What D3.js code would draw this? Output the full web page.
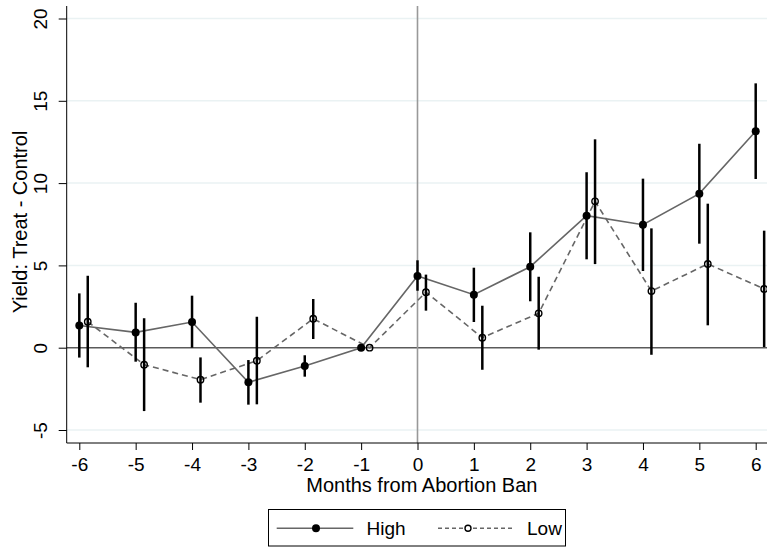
<html>

<head>
    <meta charset="utf-8">
    <style>
        body { margin: 0; background: #fff; }
        text { font-family: "Liberation Sans", Arial, sans-serif; fill: #000; }
    </style>
</head>

<body>
    <svg id="chart"></svg>
</body>
<script src="https://cdnjs.cloudflare.com/ajax/libs/d3/7.8.5/d3.min.js"></script>
<script>
    // months relative to the ban
    const months = [-6, -5, -4, -3, -2, -1, 0, 1, 2, 3, 4, 5, 6];

    // High group: estimate and 95% CI
    const highEst = [1.35, 0.93, 1.56, -2.1, -1.11, 0, 4.36, 3.22, 4.92, 8.02, 7.47, 9.36, 13.15];
    const highLo = [-0.6, -0.85, 0.0, -3.46, -1.76, 0, 3.46, 1.56, 2.82, 5.37, 4.66, 6.32, 10.25];
    const highHi = [3.3, 2.73, 3.16, -0.75, -0.46, 0, 5.31, 4.86, 7.01, 10.66, 10.27, 12.39, 16.06];

    // Low group: estimate and 95% CI
    const lowEst = [1.58, -1.03, -1.94, -0.79, 1.76, 0, 3.37, 0.61, 2.09, 8.89, 3.44, 5.09, 3.57];
    const lowLo = [-1.19, -3.85, -3.34, -3.44, 0.53, 0, 2.25, -1.34, -0.12, 5.08, -0.43, 1.36, 0.04];
    const lowHi = [4.37, 1.79, -0.59, 1.88, 2.96, 0, 4.44, 2.55, 4.31, 12.66, 7.25, 8.75, 7.11];

    const yTicks = [-5, 0, 5, 10, 15, 20];
    const lowShift = 0.15;

    const width = 767, height = 550;
    const plotTop = 6, plotBottom = 443, plotLeft = 66.7, plotRight = 767;

    const svg = d3.select('#chart')
        .attr('width', width)
        .attr('height', height);

    const x = d3.scaleLinear().domain([-6, 6]).range([79.3, 755.7]);
    const y = d3.scaleLinear().domain([0, 20]).range([347.7, 18.5]);

    const high = months.map((m, i) => ({ m: m, v: highEst[i], lo: highLo[i], hi: highHi[i] }));
    const low = months.map((m, i) => ({ m: m + lowShift, v: lowEst[i], lo: lowLo[i], hi: lowHi[i] }));

    // plain hyphen for negatives, like the original
    const fmt = d => String(d);

    // gridlines
    svg.append('g')
        .selectAll('line')
        .data(yTicks.filter(d => d !== 0))
        .enter().append('line')
        .attr('x1', plotLeft).attr('x2', plotRight)
        .attr('y1', d => y(d)).attr('y2', d => y(d))
        .attr('stroke', '#eaf2f3').attr('stroke-width', 1.5);

    // reference lines
    svg.append('line')
        .attr('x1', plotLeft).attr('x2', plotRight)
        .attr('y1', y(0)).attr('y2', y(0))
        .attr('stroke', '#5a5a5a').attr('stroke-width', 1.5);
    svg.append('line')
        .attr('x1', x(0)).attr('x2', x(0))
        .attr('y1', plotTop).attr('y2', plotBottom)
        .attr('stroke', '#999').attr('stroke-width', 1.6);

    // axes
    const yAxis = svg.append('g')
        .attr('transform', `translate(${plotLeft},0)`)
        .call(d3.axisLeft(y).tickValues(yTicks).tickSize(8).tickPadding(0).tickFormat(fmt));
    yAxis.select('.domain').remove();
    yAxis.selectAll('line').attr('stroke', '#000');
    yAxis.selectAll('text')
        .attr('font-size', 19)
        .attr('fill', '#000')
        .attr('text-anchor', 'middle')
        .attr('transform', 'translate(-20,0) rotate(-90)')
        .attr('x', 0).attr('dy', 0)
        .attr('y', 0);
    svg.append('line')
        .attr('x1', plotLeft).attr('x2', plotLeft)
        .attr('y1', plotTop).attr('y2', plotBottom)
        .attr('stroke', '#000').attr('stroke-width', 1);

    const xAxis = svg.append('g')
        .attr('transform', `translate(0,${plotBottom})`)
        .call(d3.axisBottom(x).tickValues(months).tickSize(7).tickPadding(0).tickFormat(fmt));
    xAxis.select('.domain').remove();
    xAxis.selectAll('line').attr('stroke', '#000');
    xAxis.selectAll('text')
        .attr('font-size', 19)
        .attr('fill', '#000')
        .attr('dy', 0)
        .attr('y', 28);
    svg.append('line')
        .attr('x1', plotLeft).attr('x2', plotRight)
        .attr('y1', plotBottom).attr('y2', plotBottom)
        .attr('stroke', '#000').attr('stroke-width', 1);

    // axis titles
    svg.append('text')
        .attr('x', (plotLeft + plotRight) / 2 + 5)
        .attr('y', 492)
        .attr('text-anchor', 'middle')
        .attr('font-size', 20)
        .text('Months from Abortion Ban');
    svg.append('text')
        .attr('transform', 'translate(27,222) rotate(-90)')
        .attr('text-anchor', 'middle')
        .attr('font-size', 20)
        .text('Yield: Treat - Control');

    const line = d3.line().x(d => x(d.m)).y(d => y(d.v));

    svg.append('path')
        .datum(high)
        .attr('d', line)
        .attr('fill', 'none')
        .attr('stroke', '#666')
        .attr('stroke-width', 1.6);
    svg.append('path')
        .datum(low)
        .attr('d', line)
        .attr('fill', 'none')
        .attr('stroke', '#666')
        .attr('stroke-width', 1.6)
        .attr('stroke-dasharray', '6,4');

    // confidence intervals (skip reference month)
    const ciData = high.concat(low).filter(d => d.lo !== d.hi);
    svg.append('g')
        .selectAll('line')
        .data(ciData)
        .enter().append('line')
        .attr('x1', d => x(d.m)).attr('x2', d => x(d.m))
        .attr('y1', d => y(d.lo)).attr('y2', d => y(d.hi))
        .attr('stroke', '#000').attr('stroke-width', 2.5);

    svg.append('g')
        .selectAll('circle')
        .data(high)
        .enter().append('circle')
        .attr('cx', d => x(d.m)).attr('cy', d => y(d.v))
        .attr('r', 4)
        .attr('fill', '#000');
    svg.append('g')
        .selectAll('circle')
        .data(low)
        .enter().append('circle')
        .attr('cx', d => x(d.m)).attr('cy', d => y(d.v))
        .attr('r', 3.2)
        .attr('fill', 'none')
        .attr('stroke', '#000')
        .attr('stroke-width', 1.4);

    // legend
    const legend = svg.append('g');
    legend.append('rect')
        .attr('x', 268.5).attr('y', 509.5)
        .attr('width', 297).attr('height', 36.5)
        .attr('fill', '#fff').attr('stroke', '#000').attr('stroke-width', 1);
    const legendY = 528.3;
    legend.append('line')
        .attr('x1', 276.7).attr('x2', 353.3).attr('y1', legendY).attr('y2', legendY)
        .attr('stroke', '#666').attr('stroke-width', 1.6);
    legend.append('circle')
        .attr('cx', 316).attr('cy', legendY).attr('r', 4).attr('fill', '#000');
    legend.append('text')
        .attr('x', 366.5).attr('y', 535)
        .attr('font-size', 19)
        .text('High');
    legend.append('line')
        .attr('x1', 438).attr('x2', 515).attr('y1', legendY).attr('y2', legendY)
        .attr('stroke', '#666').attr('stroke-width', 1.4).attr('stroke-dasharray', '4,3');
    legend.append('circle')
        .attr('cx', 468).attr('cy', legendY).attr('r', 3)
        .attr('fill', '#fff').attr('stroke', '#000').attr('stroke-width', 1.4);
    legend.append('text')
        .attr('x', 527).attr('y', 535)
        .attr('font-size', 19)
        .text('Low');
</script>

</html>
